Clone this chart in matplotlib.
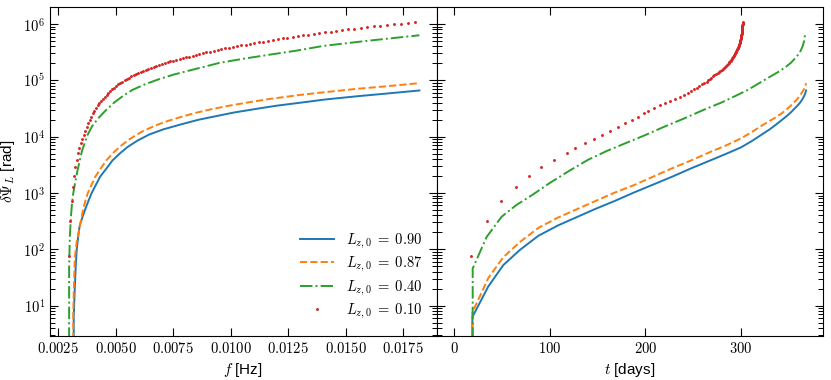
import numpy as np
import matplotlib.pyplot as plt
from matplotlib.ticker import FuncFormatter, MultipleLocator, LogLocator

plt.rcParams['font.family'] = ['Liberation Sans', 'DejaVu Sans']
plt.rcParams['mathtext.fontset'] = 'cm'

labels = [r'$L_{z,0} \;=\; 0.90$', r'$L_{z,0} \;=\; 0.87$', r'$L_{z,0} \;=\; 0.40$', r'$L_{z,0} \;=\; 0.10$']
colors = ['#1f77b4', '#ff7f0e', '#2ca02c', '#d62728']

# L_z0 = 0.90  (t in days, f in mHz, dpsi in rad)
t_090 = [17.5, 19.0, 35.6, 51.3, 68.7, 88, 108, 128, 148, 168, 188, 208, 228, 248, 268, 285,
         300, 312, 322, 330, 337, 343, 348, 352, 356, 359, 362, 364, 366, 367.2, 368]
f_090 = [3.15, 3.17, 3.22, 3.26, 3.30, 3.37, 3.43, 3.55, 3.68, 3.81, 3.96, 4.14, 4.32, 4.60, 4.86, 5.17,
         5.49, 5.94, 6.47, 7.07, 7.85, 8.60, 9.42, 10.15, 11.2, 12.0, 13.15, 14.1, 15.56, 16.9, 18.2]
psi_090 = [0, 6.3, 21.9, 52.5, 97.7, 174, 263, 372, 525, 724, 1020, 1410, 1950, 2750, 3800, 5010,
           6460, 8510, 1.10e4, 1.35e4, 1.66e4, 2.00e4, 2.34e4, 2.69e4, 3.16e4, 3.55e4, 4.07e4, 4.57e4,
           5.25e4, 5.89e4, 6.61e4]

# L_z0 = 0.87
t_087 = [17.3, 19.0, 35.6, 51.3, 68.7, 88, 108, 128, 148, 168, 188, 208, 228, 248, 268, 285,
         300, 312, 322, 330, 337, 343, 348, 352, 356, 359, 362, 364, 366, 367.2, 368]
f_087 = [3.13, 3.15, 3.19, 3.22, 3.30, 3.42, 3.51, 3.58, 3.675, 3.79, 3.94, 4.11, 4.35, 4.59, 4.93, 5.26,
         5.65, 6.14, 6.73, 7.27, 7.83, 8.44, 9.19, 9.93, 10.93, 11.7, 13.0, 14.1, 15.5, 16.9, 18.2]
psi_087 = [0, 7.6, 30.9, 72.4, 135, 240, 363, 513, 724, 1020, 1380, 1950, 2750, 3800, 5370, 7080,
           9330, 1.23e4, 1.585e4, 1.905e4, 2.24e4, 2.63e4, 3.09e4, 3.55e4, 4.17e4, 4.68e4, 5.50e4,
           6.17e4, 7.08e4, 7.94e4, 8.91e4]

# L_z0 = 0.40
t_040 = [18.8, 19.3, 33.9, 49.6, 65.3, 82, 100, 120, 140, 160, 180, 200, 220, 240, 260, 280,
         295, 307, 317, 326, 334, 341, 347, 352, 356, 359.5, 362.5, 364.5, 366, 366.8]
f_040 = [2.97, 2.97, 3.00, 3.05, 3.09, 3.14, 3.23, 3.33, 3.44, 3.53, 3.65, 3.77, 3.96, 4.22, 4.57, 4.94,
         5.34, 5.72, 6.27, 6.88, 7.50, 8.16, 8.84, 9.50, 10.5, 11.6, 12.9, 14.0, 15.9, 18.2]
psi_040 = [0, 45.7, 166, 380, 617, 933, 1510, 2460, 3890, 5620, 7760, 1.07e4, 1.51e4, 2.09e4, 2.95e4,
           4.07e4, 5.37e4, 6.76e4, 8.51e4, 1.05e5, 1.26e5, 1.48e5, 1.74e5, 2.04e5, 2.40e5, 2.82e5,
           3.39e5, 4.07e5, 5.01e5, 6.31e5]

# L_z0 = 0.10 (drawn as points)
t_010 = [17.1, 33.9, 49.2, 64.5, 78.1, 91.0, 104.0, 117.6, 126.5, 136.9,
         145.8, 154.8, 163.2, 171.0, 178.8, 185.8, 192.4, 198.2, 203.0, 208.8,
         215.1, 220.6, 226.1, 231.3, 236.0, 240.7, 244.9, 247.9, 250.9, 253.7,
         256.4, 259.0, 261.5, 263.9, 265.8, 267.4, 269.0, 270.6, 272.2, 273.9,
         275.4, 276.8, 278.2, 279.6, 280.9, 282.0, 283.1, 284.1, 285.2, 286.2,
         287.1, 287.8, 288.4, 289.1, 289.7, 290.4, 291.0, 291.6, 292.0, 292.5,
         293.0, 293.5, 293.9, 294.4, 294.8, 295.2, 295.6, 296.0, 296.3, 296.7,
         297.0, 297.4, 297.6, 297.9, 298.1, 298.4, 298.6, 298.9, 299.1, 299.3,
         299.5, 299.6, 299.8, 299.9, 300.1, 300.3, 300.4, 300.5, 300.6, 300.7,
         300.8, 300.9, 301.0, 301.1, 301.2, 301.25, 301.3, 301.4, 301.45, 301.5,
         301.6, 301.6, 301.7, 301.75]
f_010 = [2.970, 3.022, 3.076, 3.130, 3.185, 3.241, 3.299, 3.357, 3.416, 3.477,
         3.538, 3.600, 3.664, 3.729, 3.794, 3.861, 3.929, 3.999, 4.069, 4.141,
         4.214, 4.289, 4.364, 4.441, 4.520, 4.599, 4.681, 4.763, 4.847, 4.933,
         5.020, 5.108, 5.198, 5.290, 5.384, 5.478, 5.575, 5.674, 5.774, 5.875,
         5.979, 6.085, 6.192, 6.301, 6.412, 6.526, 6.641, 6.758, 6.877, 6.999,
         7.122, 7.248, 7.375, 7.506, 7.638, 7.773, 7.910, 8.049, 8.191, 8.336,
         8.483, 8.633, 8.785, 8.940, 9.098, 9.258, 9.422, 9.588, 9.757, 9.929,
         10.105, 10.283, 10.464, 10.649, 10.837, 11.028, 11.223, 11.421, 11.622, 11.827,
         12.036, 12.248, 12.465, 12.685, 12.909, 13.136, 13.368, 13.604, 13.844, 14.089,
         14.337, 14.590, 14.848, 15.110, 15.377, 15.648, 15.924, 16.205, 16.491, 16.782,
         17.078, 17.380, 17.686, 17.999]
psi_010 = [76, 316, 708, 1260, 2000, 2880, 3890, 5130, 6240, 7640,
           9120, 1.09e4, 1.28e4, 1.49e4, 1.74e4, 2.00e4, 2.27e4, 2.58e4, 2.88e4, 3.22e4,
           3.59e4, 3.94e4, 4.33e4, 4.73e4, 5.13e4, 5.56e4, 6.01e4, 6.46e4, 6.95e4, 7.45e4,
           7.94e4, 8.47e4, 9.00e4, 9.52e4, 1.01e5, 1.06e5, 1.11e5, 1.17e5, 1.22e5, 1.28e5,
           1.35e5, 1.41e5, 1.47e5, 1.53e5, 1.60e5, 1.67e5, 1.74e5, 1.80e5, 1.87e5, 1.94e5,
           2.01e5, 2.08e5, 2.16e5, 2.23e5, 2.31e5, 2.39e5, 2.47e5, 2.56e5, 2.64e5, 2.74e5,
           2.83e5, 2.92e5, 3.02e5, 3.13e5, 3.23e5, 3.33e5, 3.45e5, 3.57e5, 3.69e5, 3.81e5,
           3.93e5, 4.06e5, 4.18e5, 4.32e5, 4.46e5, 4.59e5, 4.74e5, 4.89e5, 5.05e5, 5.20e5,
           5.37e5, 5.55e5, 5.72e5, 5.90e5, 6.08e5, 6.28e5, 6.47e5, 6.68e5, 6.90e5, 7.11e5,
           7.35e5, 7.57e5, 7.80e5, 8.04e5, 8.28e5, 8.51e5, 8.77e5, 9.04e5, 9.29e5, 9.57e5,
           9.86e5, 1.01e6, 1.05e6, 1.08e6]

series = [(t_090, f_090, psi_090, '-'), (t_087, f_087, psi_087, '--'), (t_040, f_040, psi_040, '-.')]

fig = plt.figure(figsize=(8.31, 3.8), dpi=100)
ax1 = fig.add_axes([0.0602, 0.1166, 0.46525, 0.8658])
ax2 = fig.add_axes([0.52545, 0.1166, 0.46525, 0.8658], sharey=ax1)
ax1.set_yscale('log')

for (t, f, psi, ls), lab, c in zip(series, labels[:3], colors[:3]):
    ax1.plot(np.array(f) * 1e-3, psi, ls=ls, color=c, lw=1.4, label=lab)
    ax2.plot(t, psi, ls=ls, color=c, lw=1.4)

ax1.plot(np.array(f_010) * 1e-3, psi_010, ls='none', marker='.', ms=2.2, color=colors[3], label=labels[3])
ax2.plot(t_010, psi_010, ls='none', marker='.', ms=2.2, color=colors[3])

ax1.set_xlim(0.00214, 0.01895)
ax2.set_xlim(-18.4, 386)
ax1.set_ylim(2.93, 2.03e6)

ax1.xaxis.set_major_locator(MultipleLocator(0.0025))
ax1.xaxis.set_major_formatter(FuncFormatter(lambda v, p: r'$%.4f$' % v))
ax2.xaxis.set_major_locator(MultipleLocator(100))
ax2.xaxis.set_major_formatter(FuncFormatter(lambda v, p: r'$%d$' % round(v)))
ax1.yaxis.set_major_locator(LogLocator(base=10, numticks=12))
ax1.yaxis.set_minor_locator(LogLocator(base=10, subs=np.arange(2, 10), numticks=12))
ax1.yaxis.set_major_formatter(FuncFormatter(lambda v, p: r'$10^{%d}$' % round(np.log10(v))))

for ax in (ax1, ax2):
    ax.tick_params(which='both', direction='in', top=True, right=True, labelsize=10.5)
    ax.tick_params(which='major', length=5.5, width=0.8)
    ax.tick_params(which='minor', length=3.5, width=0.7)
ax2.tick_params(labelleft=False)

ax1.set_xlabel(r'$f$ [Hz]', fontsize=11)
ax2.set_xlabel(r'$t$ [days]', fontsize=11)
ax1.set_ylabel(r'$\delta\Psi_L$ [rad]', fontsize=11)

ax1.legend(loc='lower right', frameon=False, fontsize=10.5, handlelength=2.3,
           labelspacing=0.3, borderaxespad=0.6)

plt.savefig('out.png', dpi=100)
